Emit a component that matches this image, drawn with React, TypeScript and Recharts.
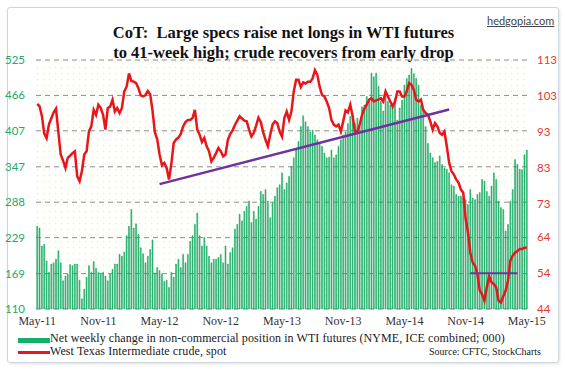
import { ComposedChart, Bar, Line, XAxis, YAxis, CartesianGrid, ReferenceLine } from "recharts";

// weekly net non-commercial position, WTI futures (000), May-11 .. May-15
const netLongs = [
  248, 245, 215, 218, 190, 171, 185, 187, 193, 207,
  187, 157, 165, 168, 184, 182, 185, 185, 158, 127,
  143, 163, 182, 171, 189, 178, 171, 168, 171, 165,
  157, 168, 176, 185, 185, 201, 198, 205, 232, 248,
  276, 245, 252, 234, 212, 202, 187, 198, 209, 225,
  170, 179, 174, 168, 156, 158, 146, 171, 163, 185,
  193, 179, 201, 187, 201, 223, 232, 251, 270, 232,
  215, 229, 215, 198, 187, 193, 193, 196, 201, 187,
  215, 185, 204, 212, 243, 251, 268, 257, 273, 281,
  290, 254, 273, 260, 281, 306, 301, 309, 290, 262,
  287, 298, 312, 317, 337, 309, 320, 331, 348, 362,
  375, 389, 414, 432, 422, 414, 405, 408, 400, 392,
  386, 381, 370, 362, 363, 375, 362, 367, 381, 392,
  400, 405, 419, 431, 436, 419, 428, 414, 447, 450,
  464, 456, 503, 497, 503, 481, 456, 440, 464, 456,
  450, 450, 461, 425, 445, 458, 483, 494, 500, 511,
  502, 494, 483, 450, 442, 414, 386, 370, 362, 354,
  356, 365, 351, 345, 343, 337, 317, 315, 301, 298,
  298, 295, 292, 284, 309, 295, 292, 301, 304, 326,
  323, 306, 298, 315, 337, 326, 290, 279, 276, 240,
  251, 290, 309, 359, 351, 343, 342, 367, 375,
];

// West Texas Intermediate spot, same weeks
const wtiSpot = [
  100.8, 100.2, 97.5, 92.6, 91.3, 95.2, 96.8, 98.5, 99.5, 93.0,
  86.8, 85.1, 83.1, 85.9, 86.5, 87.2, 87.7, 80.8, 79.4, 82.2,
  86.8, 87.7, 93.2, 94.6, 99.2, 97.8, 100.6, 99.7, 97.8, 93.7,
  99.7, 100.1, 102.0, 98.7, 99.7, 98.3, 99.7, 104.3, 105.6, 109.3,
  107.2, 107.0, 106.6, 105.2, 103.2, 102.9, 103.3, 104.4, 103.5, 99.0,
  93.0, 91.0, 86.8, 83.8, 84.5, 83.1, 79.9, 84.3, 90.0, 91.0,
  91.5, 92.5, 94.6, 95.8, 96.4, 96.4, 96.9, 99.2, 93.7, 92.3,
  90.3, 91.4, 89.1, 87.7, 84.9, 85.9, 87.2, 88.6, 87.7, 86.3,
  86.8, 90.9, 92.5, 93.5, 95.0, 96.2, 97.4, 96.8, 96.2, 96.0,
  93.7, 91.8, 92.8, 94.8, 97.0, 95.8, 93.0, 90.9, 89.1, 92.3,
  95.1, 96.0, 95.5, 93.2, 91.8, 96.9, 98.7, 96.4, 98.7, 104.3,
  107.5, 107.5, 105.5, 106.8, 106.5, 107.0, 107.0, 107.9, 110.2, 108.9,
  105.6, 103.3, 102.9, 101.5, 99.7, 96.4, 95.1, 94.6, 95.1, 93.2,
  96.0, 99.0, 98.5, 100.6, 97.5, 93.2, 93.2, 95.1, 97.8, 99.5,
  100.6, 102.0, 102.4, 101.5, 101.8, 102.0, 102.4, 101.5, 104.3, 102.9,
  101.5, 100.1, 101.5, 104.3, 104.3, 102.9, 102.9, 104.3, 106.6, 106.1,
  104.7, 102.0, 101.5, 102.0, 99.2, 98.3, 97.8, 96.0, 93.7, 95.5,
  94.6, 92.8, 92.3, 93.2, 89.1, 84.5, 82.2, 81.3, 79.9, 79.0,
  77.1, 76.2, 69.0, 65.2, 59.5, 56.9, 56.0, 53.7, 49.1, 48.1,
  46.3, 50.0, 53.0, 51.4, 50.9, 50.0, 46.3, 45.8, 47.5, 49.1,
  51.9, 57.4, 58.8, 59.6, 60.1, 60.6, 60.6, 61.0, 61.0,
];

const xTickIndex = [0, 26, 52, 78, 104, 130, 156, 182, 208];
const xTickLabels = ["May-11", "Nov-11", "May-12", "Nov-12", "May-13", "Nov-13", "May-14", "Nov-14", "May-15"];
const leftTicks = [110, 169, 229, 288, 347, 407, 466, 525];
const rightTicks = [44, 54, 64, 73, 83, 93, 103, 113];

// drawn trend lines: [week index, crude price]
const risingSupport = [
  { i: 52, v: 78.6 },
  { i: 175, v: 99.3 },
];
const lowRange = [
  { i: 184, v: 53.9 },
  { i: 204, v: 53.9 },
];

const serif = "'Liberation Serif', 'Times New Roman', serif";
const narrow = "'Liberation Sans Narrow', Lato, sans-serif";

export default function App() {
  const rows = netLongs.map((net, i) => ({ i, net, wti: wtiSpot[i] }));

  return (
    <div style={{ position: "absolute", left: 0, top: 0, width: 565, height: 370, background: "#fff", fontFamily: serif }}>
      {/* frame */}
      <div
        style={{
          position: "absolute",
          left: 7,
          top: 7,
          width: 550,
          height: 354,
          border: "1px solid #cdd5dd",
          borderRadius: 3,
          boxShadow: "1px 1px 3px rgba(0,0,0,0.12)",
        }}
      />

      <div style={{ position: "absolute", left: 0, top: 0 }}>
        <ComposedChart
          width={565}
          height={370}
          data={rows}
          margin={{ top: 60, right: 7, bottom: 41, left: 6 }}
          barCategoryGap="30%"
        >
          <defs>
            <pattern id="dots" width="6" height="6" patternUnits="userSpaceOnUse">
              <rect width="6" height="6" fill="#fffffb" />
              <circle cx="1.5" cy="1.5" r="0.7" fill="#eeebc4" />
            </pattern>
          </defs>
          <CartesianGrid yAxisId="left" vertical={false} stroke="#8c8c8c" strokeDasharray="5 4" fill="url(#dots)" />
          <XAxis
            dataKey="i"
            ticks={xTickIndex}
            interval={0}
            tickFormatter={(v) => xTickLabels[xTickIndex.indexOf(v)]}
            axisLine={false}
            tickLine={false}
            tickMargin={1}
            height={20}
            tick={{ fill: "#333", fontSize: 12, fontFamily: serif }}
          />
          <YAxis
            yAxisId="left"
            domain={[110, 525]}
            ticks={leftTicks}
            interval={0}
            width={30}
            axisLine={false}
            tickLine={false}
            tickMargin={5}
            tick={{ fill: "#25a86b", fontSize: 11.5, fontFamily: narrow }}
          />
          <YAxis
            yAxisId="right"
            orientation="right"
            domain={[44, 113]}
            ticks={rightTicks}
            interval={0}
            width={30}
            axisLine={false}
            tickLine={false}
            tickMargin={3}
            tick={{ fill: "#e23a2e", fontSize: 11.5, fontFamily: narrow }}
          />
          <Bar
            yAxisId="left"
            dataKey="net"
            fill="#2ec27e"
            stroke="#0c9a55"
            strokeWidth={0.5}
            isAnimationActive={false}
          />
          <Line
            yAxisId="right"
            type="linear"
            dataKey="wti"
            stroke="#e8161c"
            strokeWidth={2.5}
            dot={false}
            isAnimationActive={false}
          />
          <ReferenceLine
            yAxisId="right"
            segment={risingSupport.map((p) => ({ x: p.i, y: p.v }))}
            stroke="#7030a0"
            strokeWidth={2.5}
          />
          <ReferenceLine
            yAxisId="right"
            segment={lowRange.map((p) => ({ x: p.i, y: p.v }))}
            stroke="#6a3a9a"
            strokeWidth={2}
          />
        </ComposedChart>
      </div>

      {/* title */}
      <div
        style={{
          position: "absolute",
          left: 0,
          top: 23,
          width: 567,
          textAlign: "center",
          fontWeight: "bold",
          fontSize: 16.5,
          lineHeight: "19.5px",
          color: "#111",
        }}
      >
        CoT:&nbsp; Large specs raise net longs in WTI futures
        <br />
        to 41-week high; crude recovers from early drop
      </div>

      <div
        style={{
          position: "absolute",
          left: 487,
          top: 14,
          fontFamily: "Lato, sans-serif",
          fontSize: 11,
          color: "#444",
          textDecoration: "underline",
        }}
      >
        hedgopia.com
      </div>

      {/* legend */}
      <div style={{ position: "absolute", left: 18, top: 338, width: 32, height: 5, background: "#12b068" }} />
      <div style={{ position: "absolute", left: 18, top: 351, width: 32, height: 3, background: "#e8161c" }} />
      <div style={{ position: "absolute", left: 50, top: 331, fontSize: 12, letterSpacing: 0.08, lineHeight: "14px", color: "#1a1a1a", whiteSpace: "nowrap" }}>
        Net weekly change in non-commercial position in WTI futures (NYME, ICE combined; 000)
      </div>
      <div style={{ position: "absolute", left: 50, top: 344, fontSize: 12, letterSpacing: 0.08, lineHeight: "14px", color: "#1a1a1a", whiteSpace: "nowrap" }}>
        West Texas Intermediate crude, spot
      </div>
      <div style={{ position: "absolute", right: 565 - 541, top: 346, fontSize: 10, lineHeight: "12px", color: "#1a1a1a", whiteSpace: "nowrap" }}>
        Source: CFTC, StockCharts
      </div>
    </div>
  );
}
